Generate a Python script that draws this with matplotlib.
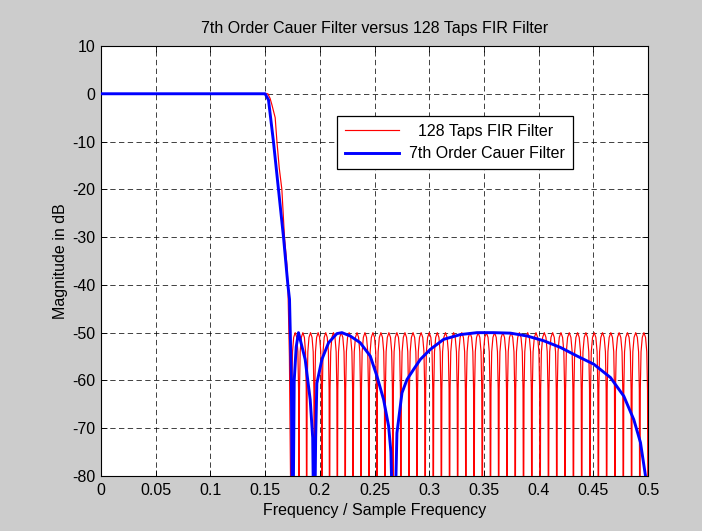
import matplotlib
matplotlib.use("Agg")
import matplotlib.pyplot as plt

# ---------------- data ----------------
title = "7th Order Cauer Filter versus 128 Taps FIR Filter"
xlabel = "Frequency / Sample Frequency"
ylabel = "Magnitude in dB"
legend_labels = ["  128 Taps FIR Filter", "7th Order Cauer Filter"]

x_ticks = [0, 0.05, 0.1, 0.15, 0.2, 0.25, 0.3, 0.35, 0.4, 0.45, 0.5]
x_tick_labels = ["0", "0.05", "0.1", "0.15", "0.2", "0.25", "0.3", "0.35", "0.4", "0.45", "0.5"]
y_ticks = [10, 0, -10, -20, -30, -40, -50, -60, -70, -80]
y_tick_labels = ["10", "0", "-10", "-20", "-30", "-40", "-50", "-60", "-70", "-80"]

# FIR: passband + transition band
fir_trans_f = [0.0, 0.05, 0.10, 0.1525, 0.1546, 0.1562, 0.1592, 0.1608, 0.1629,
               0.1653, 0.1668, 0.1677, 0.1699, 0.1708, 0.1722]
fir_trans_db = [0.0, 0.0, 0.0, 0.0, -1.0, -2.3, -5.0, -10.0, -15.5,
                -20.0, -26.0, -30.0, -35.7, -40.0, -55.0]
# FIR: stopband null frequencies (equiripple lobes at -50 dB between them)
fir_nulls = [0.1740, 0.1810, 0.1880, 0.1950, 0.2019, 0.2089, 0.2160, 0.2232,
             0.2304, 0.2376, 0.2449, 0.2522, 0.2595, 0.2668, 0.2741, 0.2815,
             0.2889, 0.2963, 0.3037, 0.3111, 0.3186, 0.3260, 0.3335, 0.3410,
             0.3485, 0.3560, 0.3635, 0.3711, 0.3786, 0.3862, 0.3938, 0.4014,
             0.4090, 0.4166, 0.4242, 0.4318, 0.4394, 0.4470, 0.4546, 0.4622,
             0.4698, 0.4774, 0.4850, 0.4925, 0.5000]
# shape of one stopband lobe: position inside lobe and level in dB
lobe_pos = [0.0, 0.06, 0.15, 0.30, 0.50, 0.70, 0.85, 0.94]
lobe_db = [-100.0, -62.0, -54.0, -51.0, -50.0, -51.0, -54.0, -62.0]

# Cauer (elliptic) response
cauer_f = [0.0, 0.05, 0.10, 0.150, 0.1531, 0.1576, 0.1622, 0.1668, 0.1708, 0.1723,
           0.1740, 0.1752, 0.1766, 0.1784, 0.1805, 0.1866, 0.1912, 0.1935, 0.1949,
           0.1962, 0.1973, 0.2019, 0.2080, 0.2156, 0.2202, 0.2278, 0.2369, 0.2461,
           0.2522, 0.2583, 0.2629, 0.2650, 0.2676, 0.2705, 0.2751, 0.2797, 0.2857,
           0.2919, 0.3010, 0.3132, 0.3285, 0.3437, 0.3589, 0.3742, 0.3895, 0.4047,
           0.4200, 0.4352, 0.4504, 0.4657, 0.4779, 0.4870, 0.4931, 0.4977, 0.5000]
cauer_db = [0.0, 0.0, 0.0, 0.0, -1.3, -10.0, -20.0, -30.0, -40.0, -43.0,
            -60.0, -100.0, -60.0, -53.0, -50.0, -55.6, -64.0, -72.0, -100.0,
            -72.0, -60.6, -55.6, -52.1, -50.2, -50.0, -50.7, -52.1, -54.9,
            -59.1, -64.0, -69.6, -75.0, -100.0, -71.0, -62.6, -59.8, -57.7,
            -55.6, -53.5, -51.4, -50.4, -50.0, -50.0, -50.1, -50.7, -51.7,
            -53.1, -54.9, -56.6, -59.4, -63.3, -68.2, -73.0, -80.0, -100.0]

# ---------------- build the FIR curve from the data ----------------
fir_f = list(fir_trans_f)
fir_db = list(fir_trans_db)
for a, b in zip(fir_nulls[:-1], fir_nulls[1:]):
    for p, d in zip(lobe_pos, lobe_db):
        fir_f.append(a + p * (b - a))
        fir_db.append(d)
fir_f.append(fir_nulls[-1])
fir_db.append(-100.0)

# ---------------- figure ----------------
plt.rcParams['font.family'] = ['Liberation Sans', 'DejaVu Sans']
FS = 11.5
fig = plt.figure(figsize=(7.02, 5.31), dpi=100, facecolor='#cccccc')
ax = fig.add_axes([0.1439, 0.1036, 0.7792, 0.8098])
ax.set_facecolor('white')

ax.plot(fir_f, fir_db, color='#ff0000', lw=0.85, label=legend_labels[0], zorder=3)
ax.plot(cauer_f, cauer_db, color='#0000ff', lw=2.1, label=legend_labels[1], zorder=4)

ax.set_xlim(0, 0.5)
ax.set_ylim(-80, 10)
ax.set_xticks(x_ticks)
ax.set_xticklabels(x_tick_labels)
ax.set_yticks(y_ticks)
ax.set_yticklabels(y_tick_labels)

ax.grid(True, color='black', linestyle=(0, (5.5, 3.5)), linewidth=0.7, alpha=0.75)
ax.tick_params(direction='in', length=4, width=0.6, labelsize=FS,
               top=True, right=True, colors='black')
ax.tick_params(axis='x', pad=5)
ax.tick_params(axis='y', pad=4)
for s in ax.spines.values():
    s.set_linewidth(0.8)
    s.set_color('black')

ax.set_title(title, fontsize=FS, pad=9)
ax.set_xlabel(xlabel, fontsize=FS, labelpad=4)
ax.set_ylabel(ylabel, fontsize=FS, labelpad=3)

leg = ax.legend(loc='upper left', bbox_to_anchor=(0.431, 0.838), fontsize=FS,
                frameon=True, fancybox=False, framealpha=1, edgecolor='black',
                handlelength=3.4, handletextpad=0.6, borderpad=0.5,
                labelspacing=0.48, borderaxespad=0)
leg.get_frame().set_linewidth(0.9)

fig.savefig("out.png", dpi=100, facecolor=fig.get_facecolor())
